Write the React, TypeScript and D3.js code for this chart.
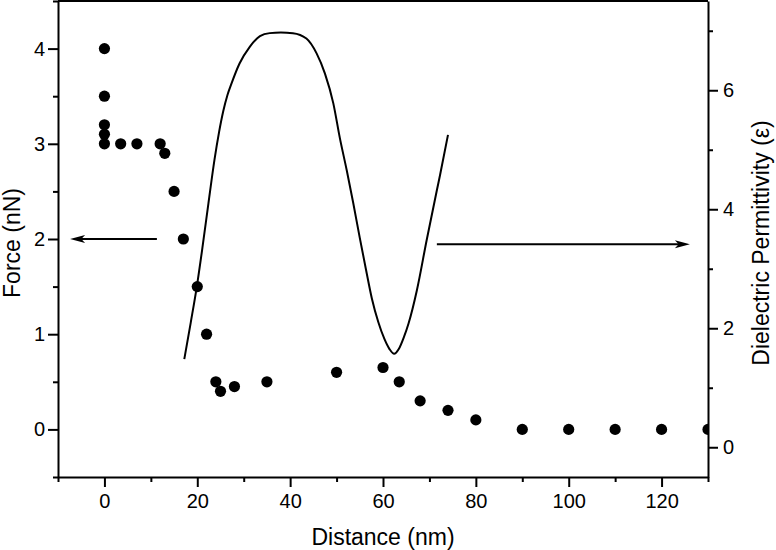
import React, { useRef, useEffect } from "react";
import * as d3 from "d3";

// force vs distance (dots, left axis)
const forceDist = [0, 0, 0, 0, 0, 3.5, 7, 12, 13, 15, 17, 20, 22, 24, 25, 28, 35, 50, 60, 63.5, 68, 74, 80, 90, 100, 110, 120, 130];
const forceVal = [4, 3.5, 3.2, 3.1, 3, 3, 3, 3, 2.9, 2.5, 2, 1.5, 1, 0.5, 0.4, 0.45, 0.5, 0.6, 0.65, 0.5, 0.3, 0.2, 0.1, 0, 0, 0, 0, 0];

// dielectric permittivity profile (line, right axis)
const epsDist = [17.2, 18.6, 19.9, 21.1, 22.4, 23.7, 24.7, 25.6, 26.5, 27.4, 29.1, 31.3, 33.5, 35.6, 38, 40.6, 43.5, 45.7, 47.5, 49.3, 50.7, 52.2, 53.6, 55, 56.3, 57.6, 59, 60.3, 61.4, 62.4, 63.4, 64.5, 65.5, 67.3, 69.4, 71.6, 72.3, 74];
const epsVal = [1.48, 2.1, 2.7, 3.35, 4.1, 4.83, 5.3, 5.65, 5.92, 6.12, 6.45, 6.73, 6.91, 6.96, 6.97, 6.96, 6.87, 6.62, 6.28, 5.78, 5.2, 4.65, 4.1, 3.52, 3.0, 2.5, 2.1, 1.82, 1.65, 1.57, 1.65, 1.85, 2.08, 2.64, 3.48, 4.32, 4.58, 5.25];

const xMajor = [0, 20, 40, 60, 80, 100, 120];
const xMinor = [-10, 10, 30, 50, 70, 90, 110, 130];
const yLeftMajor = [0, 1, 2, 3, 4];
const yLeftMinor = [-0.5, 0.5, 1.5, 2.5, 3.5, 4.5];
const yRightMajor = [0, 2, 4, 6];
const yRightMinor = [1, 3, 5, 7];

// arrows pointing at the axis each series belongs to
const leftArrow = { from: 11.3, to: -7.4, force: 2 };
const rightArrow = { from: 71.6, to: 126.1, eps: 3.41 };

const FONT = "'Liberation Sans', Arial, Helvetica, sans-serif";

const App: React.FC = () => {
  const svgRef = useRef<SVGSVGElement>(null);

  useEffect(() => {
    const width = 776;
    const height = 550;
    const margin = { top: 1, right: 68, bottom: 73, left: 58 };

    const svg = d3.select(svgRef.current);
    svg.selectAll("*").remove();

    const x = d3.scaleLinear().domain([-10, 130]).range([margin.left, width - margin.right]);
    const yL = d3.scaleLinear().domain([-0.5, 4.5]).range([height - margin.bottom, margin.top]);
    const yR = d3.scaleLinear().domain([-0.5, 7.5]).range([height - margin.bottom, margin.top]);

    svg
      .append("defs")
      .append("clipPath")
      .attr("id", "plot-clip")
      .append("rect")
      .attr("x", margin.left)
      .attr("y", margin.top)
      .attr("width", width - margin.left - margin.right)
      .attr("height", height - margin.top - margin.bottom);

    const styleAxis = (g: any) => {
      g.selectAll("path.domain").attr("stroke-width", 2).attr("stroke", "#000");
      g.selectAll(".tick line").attr("stroke-width", 2).attr("stroke", "#000");
      g.selectAll("text").attr("font-family", FONT).attr("font-size", 20).attr("fill", "#000");
    };

    // bottom axis
    const gx = svg.append("g").attr("transform", `translate(0,${height - margin.bottom})`);
    gx.call(d3.axisBottom(x).tickValues(xMajor).tickSize(10).tickSizeOuter(0).tickPadding(7).tickFormat(d3.format("d")) as any);
    gx.append("g").call(d3.axisBottom(x).tickValues(xMinor).tickSize(5).tickFormat(() => "") as any)
      .call((g) => g.select(".domain").remove());
    styleAxis(gx);

    // left axis
    const gy = svg.append("g").attr("transform", `translate(${margin.left},0)`);
    gy.call(d3.axisLeft(yL).tickValues(yLeftMajor).tickSize(10).tickSizeOuter(0).tickPadding(3).tickFormat(d3.format("d")) as any);
    gy.append("g").call(d3.axisLeft(yL).tickValues(yLeftMinor).tickSize(5).tickFormat(() => "") as any)
      .call((g) => g.select(".domain").remove());
    styleAxis(gy);

    // right axis
    const gr = svg.append("g").attr("transform", `translate(${width - margin.right},0)`);
    gr.call(d3.axisRight(yR).tickValues(yRightMajor).tickSize(10).tickSizeOuter(0).tickPadding(5).tickFormat(d3.format("d")) as any);
    gr.append("g").call(d3.axisRight(yR).tickValues(yRightMinor).tickSize(5).tickFormat(() => "") as any)
      .call((g) => g.select(".domain").remove());
    styleAxis(gr);

    // top frame
    svg
      .append("line")
      .attr("x1", margin.left)
      .attr("x2", width - margin.right)
      .attr("y1", margin.top)
      .attr("y2", margin.top)
      .attr("stroke", "#000")
      .attr("stroke-width", 2);

    const plot = svg.append("g").attr("clip-path", "url(#plot-clip)");

    // permittivity curve
    const line = d3
      .line<number>()
      .x((_, i) => x(epsDist[i]))
      .y((d) => yR(d))
      .curve(d3.curveMonotoneX);
    plot
      .append("path")
      .attr("d", line(epsVal))
      .attr("fill", "none")
      .attr("stroke", "#000")
      .attr("stroke-width", 2);

    // force dots
    plot
      .selectAll("circle")
      .data(forceVal)
      .enter()
      .append("circle")
      .attr("cx", (_, i) => x(forceDist[i]))
      .attr("cy", (d) => yL(d))
      .attr("r", 5.6)
      .attr("fill", "#000");

    // arrows
    const drawArrow = (x0: number, x1: number, yy: number) => {
      const dir = x1 > x0 ? 1 : -1;
      const headLen = 15;
      const headHalf = 4;
      svg
        .append("line")
        .attr("x1", x0)
        .attr("x2", x1 - dir * headLen * 0.6)
        .attr("y1", yy)
        .attr("y2", yy)
        .attr("stroke", "#000")
        .attr("stroke-width", 2);
      svg
        .append("path")
        .attr(
          "d",
          `M${x1},${yy} L${x1 - dir * headLen},${yy - headHalf} L${x1 - dir * headLen * 0.75},${yy} L${x1 - dir * headLen},${yy + headHalf} Z`
        )
        .attr("fill", "#000");
    };
    drawArrow(x(leftArrow.from), x(leftArrow.to), yL(leftArrow.force));
    drawArrow(x(rightArrow.from), x(rightArrow.to), yR(rightArrow.eps));

    // axis titles
    svg
      .append("text")
      .attr("x", (margin.left + width - margin.right) / 2)
      .attr("y", 545)
      .attr("text-anchor", "middle")
      .attr("font-family", FONT)
      .attr("font-size", 23)
      .text("Distance (nm)");

    svg
      .append("text")
      .attr("transform", `translate(20,${243}) rotate(-90)`)
      .attr("text-anchor", "middle")
      .attr("font-family", FONT)
      .attr("font-size", 23)
      .text("Force (nN)");

    svg
      .append("text")
      .attr("transform", `translate(769,${243}) rotate(-90)`)
      .attr("text-anchor", "middle")
      .attr("font-family", FONT)
      .attr("font-size", 23)
      .text("Dielectric Permittivity (ε)");
  }, []);

  return (
    <svg
      ref={svgRef}
      width={776}
      height={550}
      style={{ position: "absolute", left: 0, top: 0, background: "#fff" }}
    />
  );
};

export default App;
